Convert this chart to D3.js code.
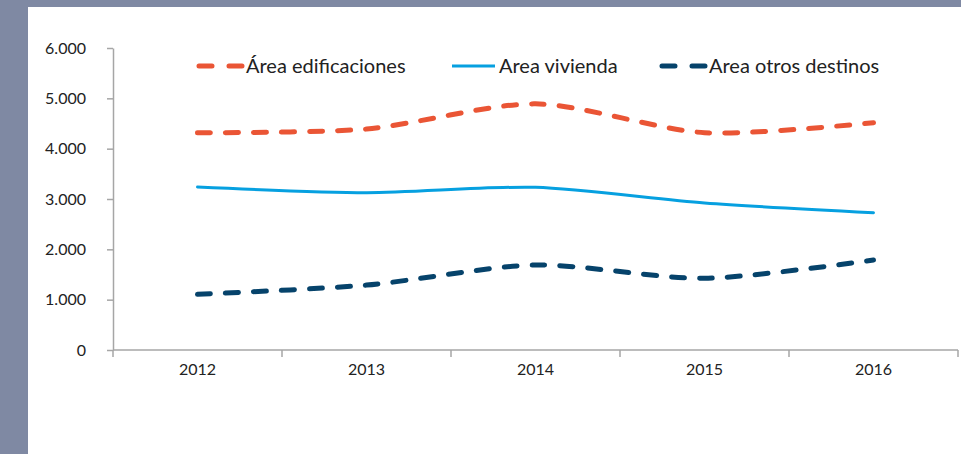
<!DOCTYPE html>
<html>
<head>
<meta charset="utf-8">
<script src="https://cdn.jsdelivr.net/npm/d3@7"></script>
<style>
  html, body { margin: 0; padding: 0; background: #7f89a3; }
  svg { display: block; }
</style>
</head>
<body>
<div id="chart"></div>
<script>
const years = ['2012', '2013', '2014', '2015', '2016'];
const areaEdificaciones = [4317, 4390, 4890, 4317, 4516];
const areaVivienda = [3239, 3126, 3232, 2921, 2728];
const areaOtros = [1106, 1290, 1689, 1424, 1788];
const yTicks = [0, 1000, 2000, 3000, 4000, 5000, 6000];

const series = [
  { name: 'Área edificaciones', values: areaEdificaciones, color: '#ea5535', dash: '13,15', width: 5 },
  { name: 'Area vivienda', values: areaVivienda, color: '#06a0e0', dash: null, width: 3 },
  { name: 'Area otros destinos', values: areaOtros, color: '#06436b', dash: '13,15', width: 5 }
];

const width = 961, height = 454;
const font = 'Lato, "Open Sans", sans-serif';

const svg = d3.select('#chart').append('svg')
  .attr('width', width)
  .attr('height', height);

// white panel over the grey frame
svg.append('rect')
  .attr('x', 0).attr('y', 0).attr('width', width).attr('height', height)
  .attr('fill', '#7f89a3');
svg.append('rect')
  .attr('x', 28).attr('y', 7).attr('width', width - 28).attr('height', height - 7)
  .attr('fill', '#ffffff');

const x = d3.scaleBand().domain(years).range([113, 958]);
const y = d3.scaleLinear().domain([0, 6000]).range([350, 48]);

const fmt = d => d === 0 ? '0' : d3.format(',')(d).replace(/,/g, '.');

// y axis
const yAxis = svg.append('g')
  .attr('transform', 'translate(113,0)')
  .call(d3.axisLeft(y).tickValues(yTicks).tickFormat(fmt).tickSize(6).tickSizeOuter(0).tickPadding(21));
yAxis.select('.domain').attr('stroke', '#a6a6a6').attr('stroke-width', 1.5);
yAxis.selectAll('.tick line').attr('stroke', '#a6a6a6').attr('stroke-width', 1.5);
yAxis.selectAll('.tick text').attr('font-family', font).attr('font-size', 16).attr('fill', '#222');

// x axis with ticks at band boundaries
const xAxis = svg.append('g').attr('transform', 'translate(0,350)');
xAxis.append('line')
  .attr('x1', 113).attr('x2', 958).attr('y1', 0).attr('y2', 0)
  .attr('stroke', '#a6a6a6').attr('stroke-width', 1.5);
const bounds = years.map(d => x(d)).concat([x.range()[1]]);
xAxis.selectAll('line.tk').data(bounds).join('line')
  .attr('class', 'tk')
  .attr('x1', d => d).attr('x2', d => d)
  .attr('y1', 0).attr('y2', 7)
  .attr('stroke', '#a6a6a6').attr('stroke-width', 1.5);
xAxis.selectAll('text').data(years).join('text')
  .attr('x', d => x(d) + x.bandwidth() / 2)
  .attr('y', 25)
  .attr('text-anchor', 'middle')
  .attr('font-family', font).attr('font-size', 16).attr('fill', '#222')
  .text(d => d);

// smoothed lines (Excel-like)
const line = d3.line()
  .x((d, i) => x(years[i]) + x.bandwidth() / 2)
  .y(d => y(d))
  .curve(d3.curveCardinal.tension(0.2));

svg.append('g').selectAll('path').data(series).join('path')
  .attr('d', d => line(d.values))
  .attr('fill', 'none')
  .attr('stroke', d => d.color)
  .attr('stroke-width', d => d.width)
  .attr('stroke-dasharray', d => d.dash)
  .attr('stroke-linecap', 'round')
  .attr('stroke-linejoin', 'round');

// legend
const legendX = [199, 452, 662];
const legend = svg.append('g').selectAll('g').data(series).join('g')
  .attr('transform', (d, i) => `translate(${legendX[i]},66)`);
legend.append('line')
  .attr('x1', 0).attr('x2', 43).attr('y1', 0).attr('y2', 0)
  .attr('stroke', d => d.color)
  .attr('stroke-width', d => d.width)
  .attr('stroke-dasharray', d => d.dash ? '13,17' : null)
  .attr('stroke-linecap', d => d.dash ? 'round' : 'butt');
legend.append('text')
  .attr('x', 47).attr('y', 7)
  .attr('font-family', font).attr('font-size', 20).attr('fill', '#222')
  .text(d => d.name);
</script>
</body>
</html>
